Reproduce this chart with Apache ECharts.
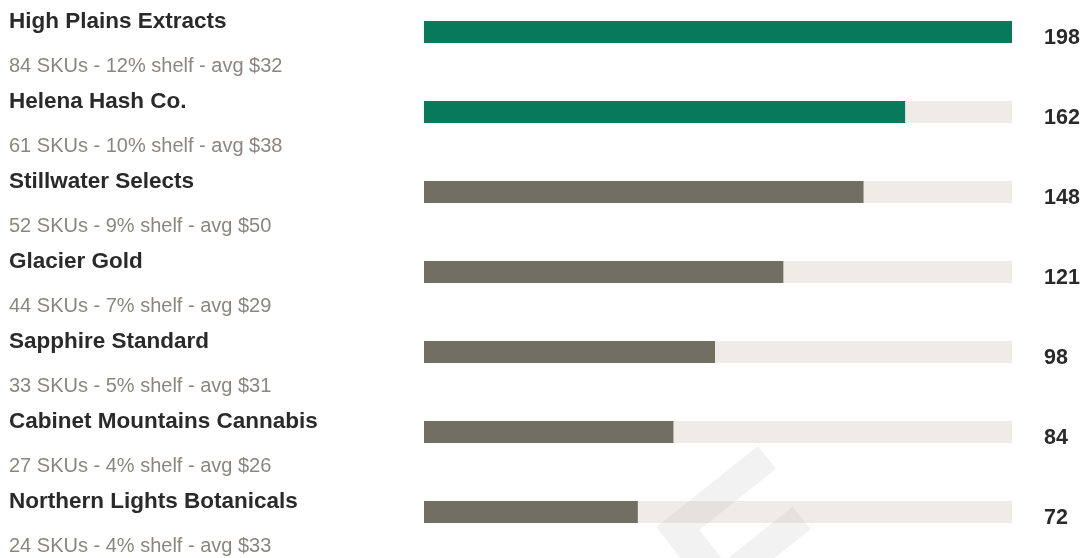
<!DOCTYPE html>
<html>
<head>
<meta charset="utf-8">
<style>
html,body{margin:0;padding:0;background:#fff;}
#chart{width:1085px;height:558px;}
</style>
<script src="https://cdn.jsdelivr.net/npm/echarts@6/dist/echarts.min.js"></script>
</head>
<body>
<div id="chart"></div>
<script>
const brands = ["High Plains Extracts","Helena Hash Co.","Stillwater Selects","Glacier Gold","Sapphire Standard","Cabinet Mountains Cannabis","Northern Lights Botanicals"];
const skus = [84, 61, 52, 44, 33, 27, 24];
const shelfPct = [12, 10, 9, 7, 5, 4, 4];
const avgPrice = [32, 38, 50, 29, 31, 26, 33];
const values = [198, 162, 148, 121, 98, 84, 72];
const highlightCount = 2;

const GREEN = '#067A5A', GRAY = '#736E63', TRACK = '#EFECE7';
const FONT = '"Liberation Sans", Arial, Helvetica, sans-serif';

const chart = echarts.init(document.getElementById('chart'));
chart.setOption({
  animation: false,
  grid: { left: 424, right: 73, top: 32, height: 480, containLabel: false },
  xAxis: { type: 'value', min: 0, max: Math.max(...values), show: false },
  yAxis: [
    {
      type: 'category', inverse: true, data: brands, boundaryGap: false,
      axisLine: { show: false }, axisTick: { show: false }, splitLine: { show: false },
      axisLabel: {
        align: 'left', margin: 415, padding: [25, 0, 0, 0],
        formatter: (v, i) => '{n|' + v + '}\n{s|' + skus[i] + ' SKUs - ' + shelfPct[i] + '% shelf - avg $' + avgPrice[i] + '}',
        rich: {
          n: { fontFamily: FONT, fontSize: 22.5, fontWeight: 'bold', color: '#2a2a2a', lineHeight: 44 },
          s: { fontFamily: FONT, fontSize: 20, color: '#8b8680', lineHeight: 46 }
        }
      }
    },
    {
      type: 'category', inverse: true, position: 'right', data: values.map(String), boundaryGap: false,
      axisLine: { show: false }, axisTick: { show: false }, splitLine: { show: false },
      axisLabel: {
        align: 'left', margin: 32, verticalAlign: 'top', lineHeight: 12,
        fontFamily: FONT, fontSize: 21.5, fontWeight: 'bold', color: '#2a2a2a'
      }
    }
  ],
  series: [{
    type: 'bar', yAxisIndex: 0, barWidth: 22,
    showBackground: true, backgroundStyle: { color: TRACK },
    data: values.map((v, i) => ({ value: v, itemStyle: { color: i < highlightCount ? GREEN : GRAY } }))
  }],
  graphic: [{
    type: 'polygon', z: 100, silent: true,
    shape: { points: [[758,446],[656.3,527.1],[716.7,604.2],[810.6,529.3],[792.7,506.5],[723.9,561.5],[699.3,530],[775.9,468.8]] },
    style: { fill: 'rgba(187,187,187,0.19)' }
  }]
});
</script>
</body>
</html>
